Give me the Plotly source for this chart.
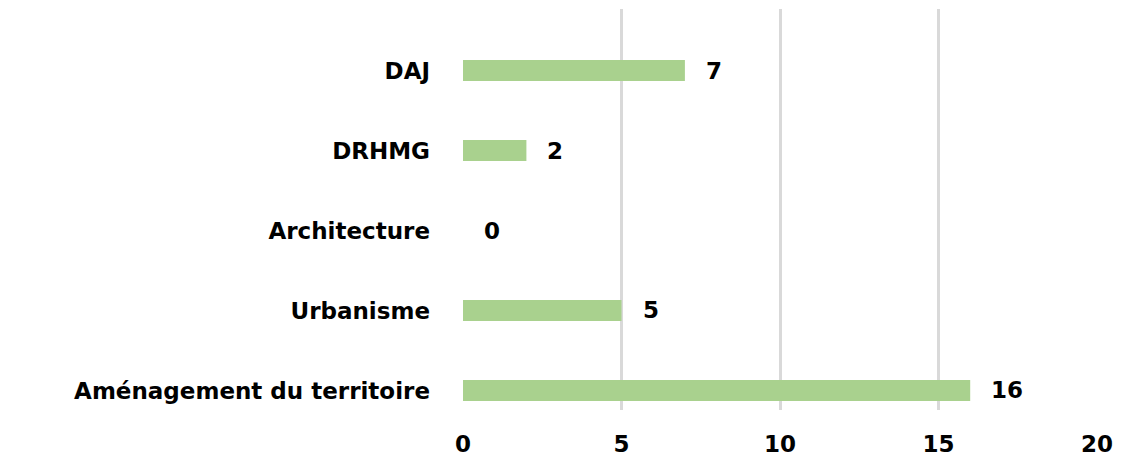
import plotly.graph_objects as go

categories = ["Aménagement du territoire", "Urbanisme", "Architecture", "DRHMG", "DAJ"]
values = [16, 5, 0, 2, 7]
x_ticks = [0, 5, 10, 15, 20]

pos = list(range(len(categories)))
font = dict(family="DejaVu Sans", size=23, color="#000000")

fig = go.Figure()
fig.add_trace(go.Bar(
    x=values, y=pos, orientation="h", width=0.2625,
    marker=dict(color="#a9d18e", line=dict(width=0)),
    hoverinfo="skip",
))
for v, p in zip(values, pos):
    fig.add_annotation(x=v, y=p, text=f"<b>{v}</b>", showarrow=False,
                       xanchor="left", yanchor="middle", xshift=19,
                       font=font)

fig.update_layout(
    width=1137, height=450,
    margin=dict(l=455, r=48, t=1, b=48, autoexpand=False),
    plot_bgcolor="white", paper_bgcolor="white",
    showlegend=False,
    xaxis=dict(range=[0, 20], tickvals=x_ticks,
               ticktext=[f"<b>{t}</b>" for t in x_ticks],
               showgrid=True, gridcolor="#d9d9d9", gridwidth=2.5,
               zeroline=False, showline=False, ticks="",
               tickfont=font, ticklabelstandoff=18),
    yaxis=dict(range=[-0.244, 4.769], tickvals=pos,
               ticktext=[f"<b>{c}</b>" for c in categories],
               showgrid=False, zeroline=False, showline=False, ticks="",
               tickfont=font, ticklabelstandoff=32),
)
fig.write_html("out.html")
